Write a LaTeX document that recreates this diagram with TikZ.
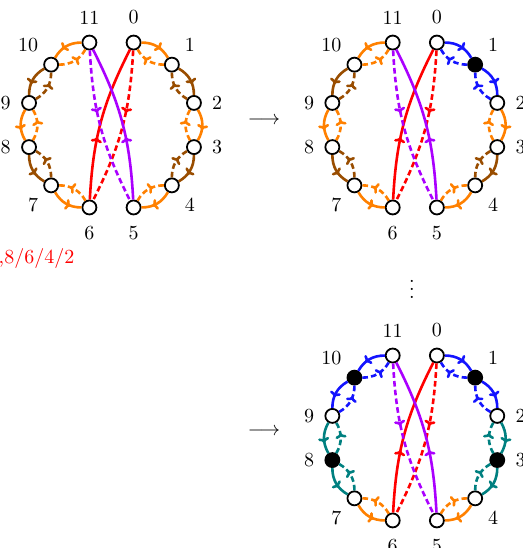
\documentclass[tikz,border=0pt]{standalone}
\usetikzlibrary{arrows.meta,decorations.markings}

\definecolor{segorange}{RGB}{255,128,0}
\definecolor{segbrown}{RGB}{153,77,0}
\definecolor{segteal}{RGB}{0,128,128}
\definecolor{segblue}{RGB}{20,20,255}
\definecolor{chordred}{RGB}{255,0,0}
\definecolor{chordpurple}{RGB}{170,0,255}

\begin{document}
\begin{tikzpicture}[
    vtx/.style={circle, draw, line width=0.9pt, fill=white, minimum size=7pt, inner sep=0pt},
    b1/.style={fill=black}, c1/.style={fill=black}, c3/.style={fill=black},
    c8/.style={fill=black}, c10/.style={fill=black},
    tipat/.style={postaction={decorate, decoration={markings,
        mark=at position #1 with {\arrow{To[length=2.6pt,width=5.6pt]}}}}},
    fwd/.style={line width=1.3pt, tipat=0.65},
    bwd/.style={line width=1.3pt, dash pattern=on 2.8pt off 1.6pt, tipat=0.65},
    chord/.style={line width=1.3pt, tipat=0.4},
    chordback/.style={line width=1.3pt, dash pattern=on 2.8pt off 1.6pt, tipat=0.4},
    every label/.style={inner sep=0pt},
    label distance=5pt
  ]
  \useasboundingbox (-55.75pt,-211.5pt) rectangle (205.75pt,62.5pt);

  % three copies of the 12-cycle
  \foreach \r/\cx/\cy in {a/0/0, b/5.33/0, c/5.33/-5.5} {
    \begin{scope}[shift={(\cx,\cy)}]
      \foreach \k in {0,...,11} {
        \pgfmathsetmacro\ang{75-30*\k}
        \pgfmathsetmacro\lab{45*round(\ang/45)}
        \node[vtx, \r\k/.try, label={\lab:\k}] (\r\k) at (\ang:1.5) {};
      }
    \end{scope}
  }

  % right half, top to bottom
  \foreach \r/\i/\col in {a/0/segorange, a/1/segbrown, a/2/segorange, a/3/segbrown, a/4/segorange,
                          b/0/segblue, b/1/segblue, b/2/segorange, b/3/segbrown, b/4/segorange,
                          c/0/segblue, c/1/segblue, c/2/segteal, c/3/segteal, c/4/segorange} {
    \pgfmathtruncatemacro\j{\i+1}
    \draw[fwd, color=\col] (\r\i) to[bend left=30] (\r\j);
    \draw[bwd, color=\col] (\r\j) to[bend left=30] (\r\i);
  }
  % left half, top to bottom
  \foreach \r/\i/\col in {a/11/segorange, a/10/segbrown, a/9/segorange, a/8/segbrown, a/7/segorange,
                          b/11/segorange, b/10/segbrown, b/9/segorange, b/8/segbrown, b/7/segorange,
                          c/11/segblue, c/10/segblue, c/9/segteal, c/8/segteal, c/7/segorange} {
    \pgfmathtruncatemacro\j{\i-1}
    \draw[fwd, color=\col] (\r\i) to[bend right=30] (\r\j);
    \draw[bwd, color=\col] (\r\j) to[bend right=30] (\r\i);
  }

  % crossing chords
  \foreach \r in {a,b,c} {
    \draw[chord, chordred] (\r6) to[bend left=12] (\r0);
    \draw[chordback, chordred] (\r0) to[bend left=12] (\r6);
    \draw[chord, chordpurple] (\r5) to[bend right=12] (\r11);
    \draw[chordback, chordpurple] (\r11) to[bend right=12] (\r5);
  }

  \node (step1) at (76.25pt,2pt) {$\longrightarrow$};
  \node (step2) at (76.25pt,-153.5pt) {$\longrightarrow$};
  \node[anchor=base] (skip) at (150.25pt,-86.5pt) {$\vdots$};
  \node[anchor=base west, inner sep=0pt, text=chordred] (tail) at (-56.6pt,-69.2pt) {,8/6/4/2};
\end{tikzpicture}
\end{document}
